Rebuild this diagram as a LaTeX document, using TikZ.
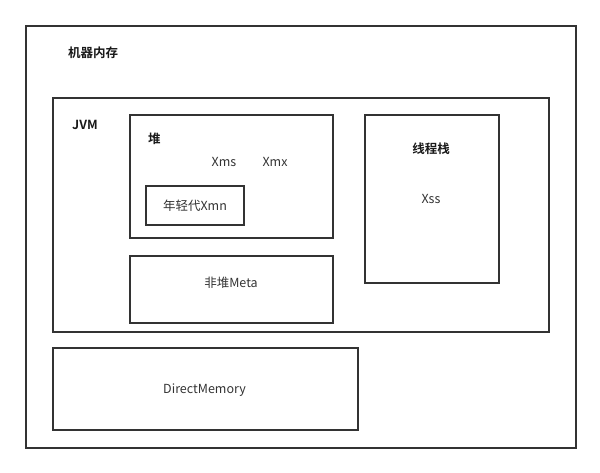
\documentclass[tikz,border=0pt]{standalone}
\usepackage{fontspec}
\setmainfont{Noto Sans CJK SC}[BoldFont={* Bold}]
\begin{document}
\begin{tikzpicture}[x=1pt,y=-1pt,
  box/.style={draw=black!80,line width=2pt,rectangle,inner sep=0pt,anchor=north west},
  lbl/.style={inner sep=0pt,font=\fontsize{12.5}{14}\selectfont,text=black!80},
  blbl/.style={inner sep=0pt,font=\fontsize{12.5}{14}\selectfont\bfseries,text=black!90}]
\useasboundingbox (0,0) rectangle (600,472);
\node[box,minimum width=550pt,minimum height=422pt] (mach) at (25,25) {};
\node[box,minimum width=496pt,minimum height=234pt] (jvm) at (52,97) {};
\node[box,minimum width=203pt,minimum height=123pt] (heap) at (129,114) {};
\node[box,minimum width=98pt,minimum height=39pt] (young) at (145,185) {};
\node[box,minimum width=134pt,minimum height=168pt] (stack) at (364,114) {};
\node[box,minimum width=203pt,minimum height=67pt] (meta) at (129,255) {};
\node[box,minimum width=305pt,minimum height=82pt] (direct) at (52,347) {};
\node[blbl,anchor=west] (tmach) at (68,53) {机器内存};
\node[blbl,anchor=west] (tjvm) at (72,125) {JVM};
\node[blbl,anchor=west] (theap) at (148,139) {堆};
\node[lbl] (txms) at (224,162) {Xms};
\node[lbl] (txmx) at (275,162) {Xmx};
\node[lbl] (tyoung) at (young.center) {年轻代Xmn};
\node[blbl] (tstack) at (431,149) {线程栈};
\node[lbl] (txss) at (431,199) {Xss};
\node[lbl] (tmeta) at (231,283) {非堆Meta};
\node[lbl] (tdirect) at (204.5,390) {DirectMemory};
\end{tikzpicture}
\end{document}
